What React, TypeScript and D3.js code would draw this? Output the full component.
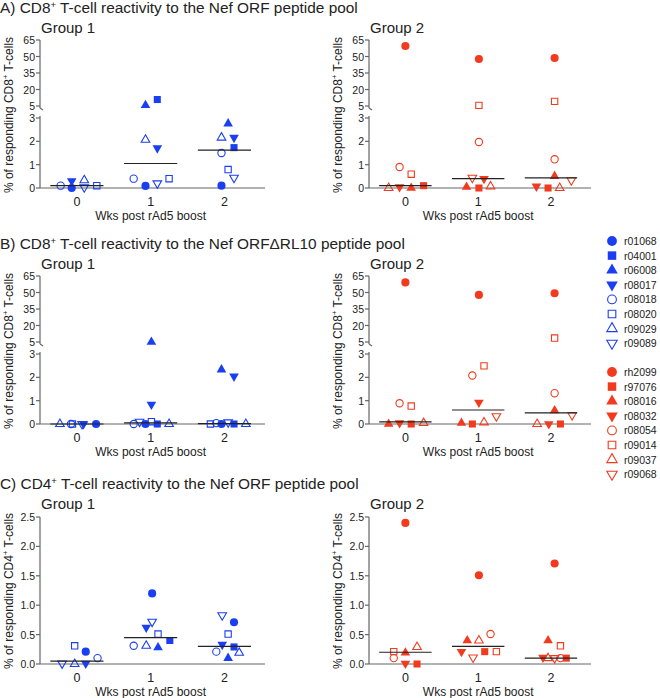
import React from 'react';
import * as d3 from 'd3';

const weeks = [0, 1, 2];
const group1Ids = ['r01068', 'r04001', 'r06008', 'r08017', 'r08018', 'r08020', 'r09029', 'r09089'];
const group2Ids = ['rh2099', 'r97076', 'r08016', 'r08032', 'r08054', 'r09014', 'r09037', 'r09068'];
const shapes = ['circle', 'square', 'triangle', 'triangleDown', 'circle', 'square', 'triangle', 'triangleDown'];
const filled = [true, true, true, true, false, false, false, false];
const upperTicks = [5, 20, 35, 50, 65];
const lowerTicks = [0, 1, 2, 3];
const cd4Ticks = [0, 0.5, 1, 1.5, 2, 2.5];

// % responding per animal, [wk0, wk1, wk2]; null = hidden under another marker
const aGroup1 = [
  [0, 0.09, 0.1], [null, 10.9, 1.73], [null, 5.6, 2.76], [0.3, 1.71, 2.16],
  [0.1, 0.4, 1.5], [0.1, 0.4, 0.79], [0.33, 2.07, 2.16], [0.03, 0.2, 0.44],
];
const aGroup2 = [
  [59.5, 47.7, 48.6], [0.1, 0, 0], [0, 0.04, 0.51], [0.04, 0.4, 0.07],
  [0.9, 1.97, 1.23], [0.59, 5.6, 9.2], [0, 0.07, 0], [null, 0.44, 0.33],
];
const bGroup1 = [
  [0, 0, 0], [null, 0, 0], [null, 5, 2.33], [0, 0.84, 2.04],
  [0, 0, 0.04], [0, 0.1, 0], [0, 0, 0], [0, 0.1, 0.07],
];
const bGroup2 = [
  [59.2, 47.8, 49.3], [0, 0, 0], [0, 0.04, 0.58], [0.04, 0.92, 0],
  [0.89, 2.08, 1.32], [0.77, 2.49, 8.6], [0.04, 0.07, 0], [null, 0.33, 0.38],
];
const cGroup1 = [
  [0.21, 1.2, 0.71], [null, 0.4, 0.29], [null, 0.28, 0.1], [0.01, 0.62, 0.33],
  [0.1, 0.31, 0.21], [0.31, 0.51, 0.51], [0, 0.31, 0.19], [0.01, 0.72, 0.83],
];
const cGroup2 = [
  [2.4, 1.51, 1.71], [0, 0.21, 0.1], [0.19, 0.4, 0.4], [0.01, 0.21, 0.11],
  [0.1, 0.51, 0.1], [0.21, 0.21, 0.31], [0.29, 0.4, 0.1], [null, 0.11, 0.1],
];

// horizontal scatter of each marker, in week units
const aGroup1Dx = [
  [-0.07, -0.07, -0.04], [0.27, 0.09, 0.13], [0, -0.07, 0.05], [-0.07, 0.09, 0.13],
  [-0.22, -0.23, -0.04], [0.27, 0.25, 0.05], [0.1, -0.07, -0.04], [0.1, 0.09, 0.13],
];
const aGroup2Dx = [
  [0, 0.01, 0.05], [0.25, 0.01, -0.04], [0.08, -0.16, 0.05], [-0.08, 0.08, -0.2],
  [-0.08, 0.01, 0.05], [0.08, 0.01, 0.05], [-0.23, 0.17, 0.12], [0, -0.08, 0.28],
];
const bGroup1Dx = [
  [0.26, -0.07, -0.04], [0, 0.09, 0.13], [0, 0.01, -0.04], [0.09, 0.01, 0.13],
  [-0.08, -0.23, -0.11], [-0.06, 0.01, -0.19], [-0.23, 0.25, 0.29], [0.07, -0.15, 0.05],
];
const bGroup2Dx = [
  [0, 0.01, 0.05], [0.08, -0.08, 0.13], [-0.23, -0.23, 0.05], [-0.08, 0.01, -0.03],
  [-0.08, -0.08, 0.05], [0.08, 0.08, 0.05], [0.25, 0.08, -0.19], [0, 0.25, 0.29],
];
const cGroup1Dx = [
  [0.12, 0.02, 0.13], [0, 0.26, 0.13], [0, 0.1, 0.05], [0.12, -0.06, -0.03],
  [0.28, -0.23, -0.11], [-0.03, 0.1, 0.05], [-0.03, -0.06, 0.2], [-0.2, 0.02, -0.03],
];
const cGroup2Dx = [
  [0, 0.01, 0.05], [0.16, 0.09, 0.21], [0, -0.15, -0.04], [0, -0.23, -0.11],
  [-0.16, 0.17, 0.13], [-0.16, 0.25, 0.13], [0.16, 0.01, -0.04], [0, -0.07, 0.05],
];

const aMedian1 = [0.1, 1.05, 1.62];
const aMedian2 = [0.1, 0.4, 0.43];
const bMedian1 = [0, 0.05, 0.02];
const bMedian2 = [0.09, 0.6, 0.48];
const cMedian1 = [0.05, 0.45, 0.3];
const cMedian2 = [0.2, 0.3, 0.1];

const blue = '#1a3ff2';
const red = '#f23a1e';
const axisColor = '#666';
const textColor = '#222';
const font = 'Liberation Sans, Arial, Helvetica, sans-serif';

const symbolPath = (shape: string, size: number) => {
  const type = shape === 'circle' ? d3.symbolCircle : shape === 'square' ? d3.symbolSquare : d3.symbolTriangle;
  return d3.symbol().type(type).size(size)() as string;
};

const markerSize = (shape: string, big: boolean) => {
  const base = shape === 'circle' ? 52 : shape === 'square' ? 50 : 40;
  return big ? base * 1.45 : base;
};

const Marker = ({ cx, cy, i, color, big = false }: any) => {
  const shape = shapes[i];
  const isFilled = filled[i];
  const size = markerSize(shape, big) * (isFilled ? 1 : 0.8);
  const rot = shape === 'triangleDown' ? ' rotate(180)' : '';
  return (
    <path
      d={symbolPath(shape, size)}
      transform={`translate(${cx},${cy})${rot}`}
      fill={isFilled ? color : 'none'}
      stroke={color}
      strokeWidth={isFilled ? 0 : 1.1}
    />
  );
};

const Sup = ({ base, rest }: any) => (
  <>
    {base}
    <tspan dy={-5} fontSize="0.62em">+</tspan>
    <tspan dy={5}>{rest}</tspan>
  </>
);

const Panel = ({ x0, x1, y0, values, dx, medians, color, broken, cell, group }: any) => {
  const x = d3.scaleLinear().domain([-0.5, 2.55]).range([x0, x1]);
  const yLow = d3.scaleLinear().domain([0, 3]).range([y0, y0 - 70]);
  const yHigh = d3.scaleLinear().domain([5, 65]).range([y0 - 82, y0 - 148]);
  const yLin = d3.scaleLinear().domain([0, 2.5]).range([y0, y0 - 147]);
  const y = (v: number) => (broken ? (v > 4 ? yHigh(v) : yLow(v)) : yLin(v));
  const step = x(1) - x(0);

  return (
    <g fontFamily={font} fill={textColor}>
      <text x={x0 + 1} y={y0 - 155} fontSize={15}>{group}</text>
      {/* y axis */}
      {broken ? (
        <g stroke={axisColor} strokeWidth={1.2}>
          <line x1={x0} x2={x0} y1={yHigh(65)} y2={yHigh(5) + 2} />
          <line x1={x0} x2={x0 + 3} y1={yHigh(5) + 2} y2={yHigh(5) + 4} />
          <line x1={x0} x2={x0} y1={yLow(3) - 2} y2={y0} />
          {upperTicks.map((t) => <line key={'u' + t} x1={x0 - 4} x2={x0} y1={yHigh(t)} y2={yHigh(t)} />)}
          {lowerTicks.map((t) => <line key={'l' + t} x1={x0 - 4} x2={x0} y1={yLow(t)} y2={yLow(t)} />)}
        </g>
      ) : (
        <g stroke={axisColor} strokeWidth={1.2}>
          <line x1={x0} x2={x0} y1={yLin(2.5)} y2={y0} />
          {cd4Ticks.map((t) => <line key={t} x1={x0 - 4} x2={x0} y1={yLin(t)} y2={yLin(t)} />)}
        </g>
      )}
      {(broken ? [...upperTicks.map((t) => [t, yHigh(t)]), ...lowerTicks.map((t) => [t, yLow(t)])]
        : cd4Ticks.map((t) => [t, yLin(t)])).map(([t, py]) => (
        <text key={'t' + t} x={x0 - 5} y={py + 4} fontSize={10.5} textAnchor="end">
          {broken ? t : d3.format('.1f')(t)}
        </text>
      ))}
      <text transform={`translate(${x0 - 27},${y0 - 73}) rotate(-90)`} fontSize={12} textAnchor="middle">
        <Sup base={`% of responding ${cell}`} rest=" T-cells" />
      </text>
      {/* x axis */}
      <line x1={x0} x2={x1} y1={y0} y2={y0} stroke={axisColor} strokeWidth={1.2} />
      {weeks.map((w) => (
        <text key={w} x={x(w)} y={y0 + 18} fontSize={12.5} textAnchor="middle">{w}</text>
      ))}
      <text x={x(1)} y={y0 + 31.5} fontSize={12} textAnchor="middle">Wks post rAd5 boost</text>
      {/* markers */}
      {values.map((row: (number | null)[], i: number) =>
        row.map((v, w) =>
          v === null ? null : (
            <Marker key={i + '-' + w} i={i} color={color} cx={x(w + dx[i][w])} cy={y(v)} />
          )
        )
      )}
      {/* medians */}
      {medians.map((m: number, w: number) => (
        <line key={'m' + w} x1={x(w) - step * 0.36} x2={x(w) + step * 0.36} y1={y(m)} y2={y(m)}
          stroke="#222" strokeWidth={1.2} />
      ))}
    </g>
  );
};

const Legend = ({ ids, color, top }: any) => (
  <g fontFamily={font} fill={textColor}>
    {ids.map((id: string, i: number) => (
      <g key={id}>
        <Marker i={i} color={color} cx={612} cy={top + i * 14.6} big />
        <text x={624} y={top + i * 14.6 + 4} fontSize={10.5}>{id}</text>
      </g>
    ))}
  </g>
);

const rows = [
  { y0: 188, label: 'A) CD8', rest: ' T-cell reactivity to the Nef ORF peptide pool', cell: 'CD8', broken: true,
    g1: aGroup1, g2: aGroup2, d1: aGroup1Dx, d2: aGroup2Dx, m1: aMedian1, m2: aMedian2 },
  { y0: 424, label: 'B) CD8', rest: ' T-cell reactivity to the Nef ORF\u0394RL10 peptide pool', cell: 'CD8', broken: true,
    g1: bGroup1, g2: bGroup2, d1: bGroup1Dx, d2: bGroup2Dx, m1: bMedian1, m2: bMedian2 },
  { y0: 664, label: 'C) CD4', rest: ' T-cell reactivity to the Nef ORF peptide pool', cell: 'CD4', broken: false,
    g1: cGroup1, g2: cGroup2, d1: cGroup1Dx, d2: cGroup2Dx, m1: cMedian1, m2: cMedian2 },
];

export default function App() {
  return (
    <svg width={660} height={698} style={{ position: 'absolute', left: 0, top: 0, background: '#fff' }}>
      {rows.map((r) => (
        <g key={r.label}>
          <text x={0} y={r.y0 - 175} fontSize={15.4} fontFamily={font} fill={textColor}>
            <Sup base={r.label} rest={r.rest} />
          </text>
          <Panel x0={40} x1={265} y0={r.y0} values={r.g1} dx={r.d1} medians={r.m1} color={blue}
            broken={r.broken} cell={r.cell} group="Group 1" />
          <Panel x0={369} x1={591} y0={r.y0} values={r.g2} dx={r.d2} medians={r.m2} color={red}
            broken={r.broken} cell={r.cell} group="Group 2" />
        </g>
      ))}
      <Legend ids={group1Ids} color={blue} top={241} />
      <Legend ids={group2Ids} color={red} top={372} />
    </svg>
  );
}
